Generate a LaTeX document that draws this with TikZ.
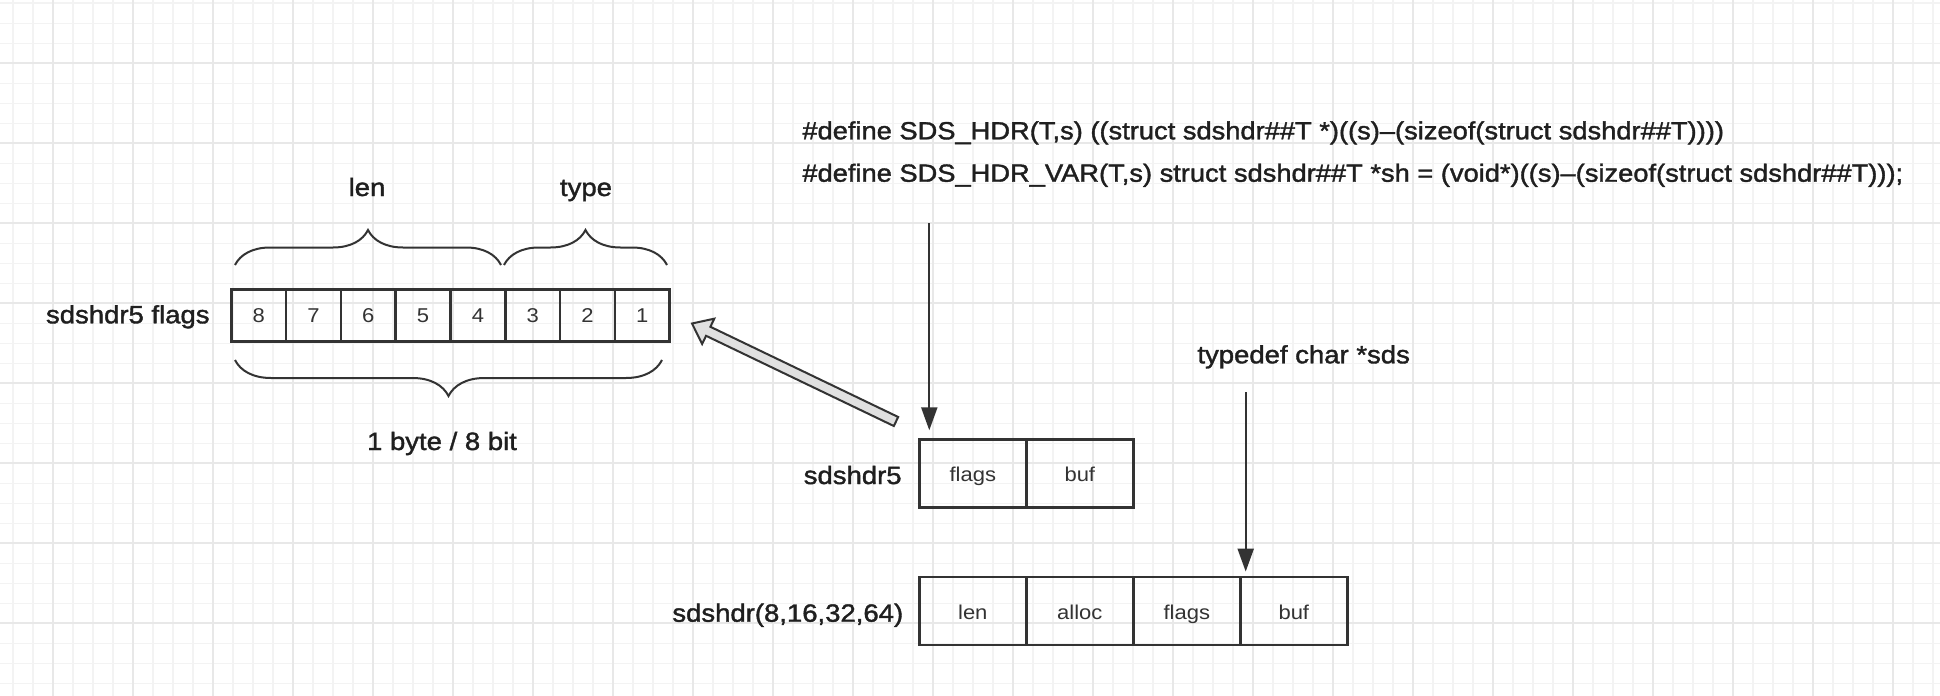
\documentclass[tikz,border=0pt]{standalone}
\usepackage{fontspec}
\setmainfont{Liberation Sans}[FakeStretch=1.1]
\newfontfamily\labelfont{Liberation Sans}[FakeStretch=1.1, FakeBold=1.5]
\usetikzlibrary{arrows.meta,decorations.pathreplacing,calc}

\definecolor{inkgray}{HTML}{333333}
\definecolor{gridminor}{HTML}{F3F3F3}
\definecolor{gridmajor}{HTML}{E8E8E8}
\definecolor{arrowfill}{HTML}{E0E0E0}

\begin{document}
\begin{tikzpicture}[
    x=0.5pt, y=-0.5pt,
    minorgrid/.style={draw=gridminor, line width=0.8pt},
    majorgrid/.style={draw=gridmajor, line width=1pt},
    bitcell/.style={draw=inkgray, line width=1.25pt, minimum width=27.4pt, minimum height=26.2pt, inner sep=0pt, outer sep=0pt, font=\fontsize{10}{12}\selectfont, text=black!80},
    fieldcell/.style={bitcell, minimum width=53.5pt, minimum height=34pt, text height=0.8em, text depth=0pt},
    label/.style={inner sep=0pt, font=\labelfont\fontsize{12.5}{15}\selectfont, text=black!88},
    code/.style={inner sep=0pt, font=\labelfont\fontsize{12.4}{15}\selectfont, text=black!88},
    brace/.style={draw=inkgray, line width=1pt, decorate, decoration={brace, amplitude=17.5pt}},
    darrow/.style={draw=inkgray, line width=1.1pt, -{Triangle[length=11.5pt, width=8pt]}},
    hollow/.style={draw=inkgray, line width=1pt, fill=arrowfill, line join=miter}
]

% Background grid
\fill[white] (0,0) rectangle (1940,696);
\useasboundingbox (0,0) rectangle (1940,696);
\foreach \gx in {12.7,32.7,...,1940} \draw[minorgrid] (\gx,0) -- (\gx,696);
\foreach \gy in {3.3,23.3,...,696} \draw[minorgrid] (0,\gy) -- (1940,\gy);
\foreach \gx in {52.7,132.7,...,1940} \draw[majorgrid] (\gx,0) -- (\gx,696);
\foreach \gy in {62.7,142.7,...,696} \draw[majorgrid] (0,\gy) -- (1940,\gy);

% Flags byte
\node[label, anchor=base east] (flagslabel) at (210,323.3) {sdshdr5 flags};
\foreach \b [count=\i] in {8,7,...,1}
  \node[bitcell] (bit\b) at (231.3+54.8*\i-27.4, 315.5) {\b};

% Braces
\draw[brace] (235,265) -- (501,265);
\draw[brace] (504,265) -- (667,265);
\draw[brace, decoration={brace, amplitude=18pt}] (662,360) -- (235,360);
\node[label, anchor=base] (lenlabel) at (367,196) {len};
\node[label, anchor=base] (typelabel) at (586,196) {type};
\node[label, anchor=base] (bytelabel) at (442,450) {1 byte / 8 bit};

% Macros
\node[code, anchor=base west] (hdrmacro) at (802,139.3) {\#define SDS\_HDR(T,s) ((struct sdshdr\#\#T *)((s)–(sizeof(struct sdshdr\#\#T))))};
\node[code, anchor=base west] (varmacro) at (802,181.7) {\#define SDS\_HDR\_VAR(T,s) struct sdshdr\#\#T *sh = (void*)((s)–(sizeof(struct sdshdr\#\#T)));};

% sdshdr5
\node[label, anchor=base east] (s5label) at (902,484) {sdshdr5};
\node[fieldcell] (s5flags) at (972.8,473.3) {flags};
\node[fieldcell] (s5buf) at (1079.8,473.3) {buf};

% sdshdr8/16/32/64
\node[label, anchor=base east] (hdrlabel) at (903.6,621.7) {sdshdr(8,16,32,64)};
\foreach \f [count=\i] in {len,alloc,flags,buf}
  \node[fieldcell] (hdr\f) at (919.3+107*\i-53.5, 611.2) {\f};
\node[label, anchor=base west] (sdslabel) at (1197,363.3) {typedef char *sds};

% Arrows
\coordinate (hdrtop) at (929.3,223);
\draw[darrow, shorten >=4.5pt] (hdrtop) -- (hdrtop |- s5flags.north);
\coordinate (sdstop) at (1245.7,392);
\draw[darrow, shorten >=2.8pt] (sdstop) -- (sdstop |- hdrbuf.north);

\coordinate (hollowtail) at (896,421.5);
\coordinate (hollowtip) at (692,323.5);
\coordinate (hollowneck) at ($(hollowtip)!9pt!(hollowtail)$);
\draw[hollow] ($(hollowtail)!2.5pt!90:(hollowtip)$) -- ($(hollowneck)!2.5pt!90:(hollowtip)$)
  -- ($(hollowneck)!7pt!90:(hollowtip)$) -- (hollowtip)
  -- ($(hollowneck)!7pt!-90:(hollowtip)$) -- ($(hollowneck)!2.5pt!-90:(hollowtip)$)
  -- ($(hollowtail)!2.5pt!-90:(hollowtip)$) -- cycle;

\end{tikzpicture}
\end{document}
